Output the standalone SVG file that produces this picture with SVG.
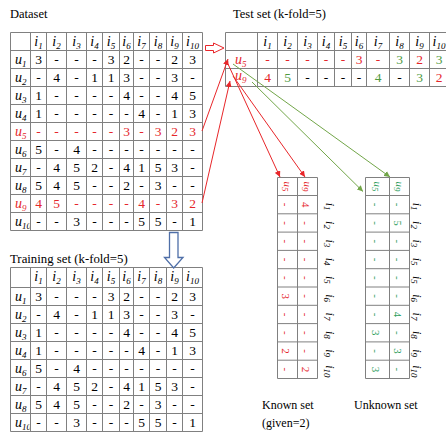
<svg xmlns="http://www.w3.org/2000/svg" width="446" height="435" viewBox="0 0 446 435">
<style>
text{font-family:"Liberation Serif","Times New Roman",serif}
.title{font-size:12.5px}
.v{font-size:13.5px;text-anchor:middle}
.lb{font-size:14px;font-style:italic}
.hd{font-size:14px;font-style:italic;text-anchor:middle}
.sub{font-size:9px}
.red{fill:#e5262b}
.grn{fill:#4f9a3f}
.teal{fill:#2d9d5c}
.grid{fill:none;stroke:#808080;stroke-width:1}
.rv{font-size:11px;text-anchor:middle}
.rh{font-size:11px;font-style:italic;text-anchor:middle}
.rl{font-size:12px;font-style:italic;text-anchor:middle}
.wire-r{stroke:#e8262a;stroke-width:1;fill:none}
.wire-g{stroke:#72a649;stroke-width:1;fill:none}
</style>
<defs>
<marker id="ah-red" viewBox="0 0 10 10" refX="10" refY="5" markerWidth="6" markerHeight="6" markerUnits="userSpaceOnUse" orient="auto"><path d="M0 0L10 5L0 10z" fill="#e8262a"/></marker>
<marker id="ah-grn" viewBox="0 0 10 10" refX="10" refY="5" markerWidth="6" markerHeight="6" markerUnits="userSpaceOnUse" orient="auto"><path d="M0 0L10 5L0 10z" fill="#72a649"/></marker>
<clipPath id="first-col"><rect x="10" y="0" width="19.5" height="435"/></clipPath>
</defs>
<rect width="446" height="435" fill="#fff"/>

<!-- full rating matrix -->
<g id="dataset">
<text class="title" x="10" y="18">Dataset</text>
<path class="grid" d="M10.5 32.5V230.5M30.5 32.5V230.5M46.5 32.5V230.5M66.5 32.5V230.5M86.5 32.5V230.5M102.5 32.5V230.5M119.5 32.5V230.5M133.5 32.5V230.5M149.5 32.5V230.5M166.5 32.5V230.5M182.5 32.5V230.5M202.5 32.5V230.5M10.5 32.5H202.5M10.5 50.5H202.5M10.5 68.5H202.5M10.5 86.5H202.5M10.5 104.5H202.5M10.5 122.5H202.5M10.5 140.5H202.5M10.5 158.5H202.5M10.5 176.5H202.5M10.5 194.5H202.5M10.5 212.5H202.5M10.5 230.5H202.5"/>
<g class="hd" transform="translate(0,45.5)">
<text x="38.5">i<tspan class="sub" dy="3">1</tspan></text><text x="56.5">i<tspan class="sub" dy="3">2</tspan></text><text x="76.5">i<tspan class="sub" dy="3">3</tspan></text><text x="94.5">i<tspan class="sub" dy="3">4</tspan></text><text x="111">i<tspan class="sub" dy="3">5</tspan></text><text x="126.5">i<tspan class="sub" dy="3">6</tspan></text><text x="141.5">i<tspan class="sub" dy="3">7</tspan></text><text x="158">i<tspan class="sub" dy="3">8</tspan></text><text x="174.5">i<tspan class="sub" dy="3">9</tspan></text><text x="192.5">i<tspan class="sub" dy="3">10</tspan></text>
</g>
<g class="lb">
<text x="15" y="63.5">u<tspan class="sub" dy="3">1</tspan></text>
<text x="15" y="81.5">u<tspan class="sub" dy="3">2</tspan></text>
<text x="15" y="99.5">u<tspan class="sub" dy="3">3</tspan></text>
<text x="15" y="117.5">u<tspan class="sub" dy="3">4</tspan></text>
<text x="15" y="135.5" class="red">u<tspan class="sub" dy="3">5</tspan></text>
<text x="15" y="153.5">u<tspan class="sub" dy="3">6</tspan></text>
<text x="15" y="171.5">u<tspan class="sub" dy="3">7</tspan></text>
<text x="15" y="189.5">u<tspan class="sub" dy="3">8</tspan></text>
<text x="15" y="207.5" class="red">u<tspan class="sub" dy="3">9</tspan></text>
<text x="15" y="225.5" clip-path="url(#first-col)">u<tspan class="sub" dy="3">10</tspan></text>
</g>
<g class="v" transform="translate(0,63.5)"><text x="38.5">3</text><text x="56.5">-</text><text x="76.5">-</text><text x="94.5">-</text><text x="111">3</text><text x="126.5">2</text><text x="141.5">-</text><text x="158">-</text><text x="174.5">2</text><text x="192.5">3</text></g>
<g class="v" transform="translate(0,81.5)"><text x="38.5">-</text><text x="56.5">4</text><text x="76.5">-</text><text x="94.5">1</text><text x="111">1</text><text x="126.5">3</text><text x="141.5">-</text><text x="158">-</text><text x="174.5">3</text><text x="192.5">-</text></g>
<g class="v" transform="translate(0,99.5)"><text x="38.5">1</text><text x="56.5">-</text><text x="76.5">-</text><text x="94.5">-</text><text x="111">-</text><text x="126.5">4</text><text x="141.5">-</text><text x="158">-</text><text x="174.5">4</text><text x="192.5">5</text></g>
<g class="v" transform="translate(0,117.5)"><text x="38.5">1</text><text x="56.5">-</text><text x="76.5">-</text><text x="94.5">-</text><text x="111">-</text><text x="126.5">-</text><text x="141.5">4</text><text x="158">-</text><text x="174.5">1</text><text x="192.5">3</text></g>
<g class="v red" transform="translate(0,135.5)"><text x="38.5">-</text><text x="56.5">-</text><text x="76.5">-</text><text x="94.5">-</text><text x="111">-</text><text x="126.5">3</text><text x="141.5">-</text><text x="158">3</text><text x="174.5">2</text><text x="192.5">3</text></g>
<g class="v" transform="translate(0,153.5)"><text x="38.5">5</text><text x="56.5">-</text><text x="76.5">4</text><text x="94.5">-</text><text x="111">-</text><text x="126.5">-</text><text x="141.5">-</text><text x="158">-</text><text x="174.5">-</text><text x="192.5">-</text></g>
<g class="v" transform="translate(0,171.5)"><text x="38.5">-</text><text x="56.5">4</text><text x="76.5">5</text><text x="94.5">2</text><text x="111">-</text><text x="126.5">4</text><text x="141.5">1</text><text x="158">5</text><text x="174.5">3</text><text x="192.5">-</text></g>
<g class="v" transform="translate(0,189.5)"><text x="38.5">5</text><text x="56.5">4</text><text x="76.5">5</text><text x="94.5">-</text><text x="111">-</text><text x="126.5">2</text><text x="141.5">-</text><text x="158">3</text><text x="174.5">-</text><text x="192.5">-</text></g>
<g class="v red" transform="translate(0,207.5)"><text x="38.5">4</text><text x="56.5">5</text><text x="76.5">-</text><text x="94.5">-</text><text x="111">-</text><text x="126.5">-</text><text x="141.5">4</text><text x="158">-</text><text x="174.5">3</text><text x="192.5">2</text></g>
<g class="v" transform="translate(0,225.5)"><text x="38.5">-</text><text x="56.5">-</text><text x="76.5">3</text><text x="94.5">-</text><text x="111">-</text><text x="126.5">-</text><text x="141.5">5</text><text x="158">5</text><text x="174.5">-</text><text x="192.5">1</text></g>
</g>

<!-- held-out fold -->
<g id="test-set">
<text class="title" x="233" y="18">Test set (k-fold=5)</text>
<path class="grid" d="M225.5 32.5V86.5M257.5 32.5V86.5M277.5 32.5V86.5M297.5 32.5V86.5M317.5 32.5V86.5M334.5 32.5V86.5M351.5 32.5V86.5M366.5 32.5V86.5M389.5 32.5V86.5M409.5 32.5V86.5M429.5 32.5V86.5M225.5 32.5H446M225.5 50.5H446M225.5 68.5H446M225.5 86.5H446"/>
<g class="hd" transform="translate(0,45.5)">
<text x="267.5">i<tspan class="sub" dy="3">1</tspan></text><text x="287.5">i<tspan class="sub" dy="3">2</tspan></text><text x="307.5">i<tspan class="sub" dy="3">3</tspan></text><text x="326">i<tspan class="sub" dy="3">4</tspan></text><text x="343">i<tspan class="sub" dy="3">5</tspan></text><text x="359">i<tspan class="sub" dy="3">6</tspan></text><text x="378">i<tspan class="sub" dy="3">7</tspan></text><text x="399.5">i<tspan class="sub" dy="3">8</tspan></text><text x="419.5">i<tspan class="sub" dy="3">9</tspan></text><text x="439">i<tspan class="sub" dy="3">10</tspan></text>
</g>
<g class="lb red">
<text x="235" y="63.5">u<tspan class="sub" dy="3">5</tspan></text>
<text x="235" y="80">u<tspan class="sub" dy="3">9</tspan></text>
</g>
<g class="v red" transform="translate(0,63.5)"><text x="267.5">-</text><text x="287.5">-</text><text x="307.5">-</text><text x="326">-</text><text x="343">-</text><text x="359">3</text><text x="378">-</text><text x="399.5" class="grn">3</text><text x="419.5">2</text><text x="439" class="grn">3</text></g>
<g class="v" transform="translate(0,81.5)"><text x="267.5" class="red">4</text><text x="287.5" class="grn">5</text><text x="307.5">-</text><text x="326">-</text><text x="343">-</text><text x="359">-</text><text x="378" class="grn">4</text><text x="399.5">-</text><text x="419.5" class="grn">3</text><text x="439" class="red">2</text></g>
</g>

<!-- remaining folds -->
<g id="training-set">
<text class="title" x="10" y="263" style="font-size:12.8px">Training set (k-fold=5)</text>
<path class="grid" d="M10.5 267.5V431.5M30.5 267.5V431.5M46.5 267.5V431.5M66.5 267.5V431.5M86.5 267.5V431.5M102.5 267.5V431.5M119.5 267.5V431.5M133.5 267.5V431.5M149.5 267.5V431.5M166.5 267.5V431.5M182.5 267.5V431.5M202.5 267.5V431.5M10.5 267.5H202.5M10.5 287.5H202.5M10.5 305.5H202.5M10.5 323.5H202.5M10.5 341.5H202.5M10.5 359.5H202.5M10.5 377.5H202.5M10.5 395.5H202.5M10.5 413.5H202.5M10.5 431.5H202.5"/>
<g class="hd" transform="translate(0,281)">
<text x="38.5">i<tspan class="sub" dy="3">1</tspan></text><text x="56.5">i<tspan class="sub" dy="3">2</tspan></text><text x="76.5">i<tspan class="sub" dy="3">3</tspan></text><text x="94.5">i<tspan class="sub" dy="3">4</tspan></text><text x="111">i<tspan class="sub" dy="3">5</tspan></text><text x="126.5">i<tspan class="sub" dy="3">6</tspan></text><text x="141.5">i<tspan class="sub" dy="3">7</tspan></text><text x="158">i<tspan class="sub" dy="3">8</tspan></text><text x="174.5">i<tspan class="sub" dy="3">9</tspan></text><text x="192.5">i<tspan class="sub" dy="3">10</tspan></text>
</g>
<g class="lb">
<text x="15" y="300.5">u<tspan class="sub" dy="3">1</tspan></text>
<text x="15" y="318.5">u<tspan class="sub" dy="3">2</tspan></text>
<text x="15" y="336.5">u<tspan class="sub" dy="3">3</tspan></text>
<text x="15" y="354.5">u<tspan class="sub" dy="3">4</tspan></text>
<text x="15" y="372.5">u<tspan class="sub" dy="3">6</tspan></text>
<text x="15" y="390.5">u<tspan class="sub" dy="3">7</tspan></text>
<text x="15" y="408.5">u<tspan class="sub" dy="3">8</tspan></text>
<text x="15" y="426.5" clip-path="url(#first-col)">u<tspan class="sub" dy="3">10</tspan></text>
</g>
<g class="v" transform="translate(0,300.5)"><text x="38.5">3</text><text x="56.5">-</text><text x="76.5">-</text><text x="94.5">-</text><text x="111">3</text><text x="126.5">2</text><text x="141.5">-</text><text x="158">-</text><text x="174.5">2</text><text x="192.5">3</text></g>
<g class="v" transform="translate(0,318.5)"><text x="38.5">-</text><text x="56.5">4</text><text x="76.5">-</text><text x="94.5">1</text><text x="111">1</text><text x="126.5">3</text><text x="141.5">-</text><text x="158">-</text><text x="174.5">3</text><text x="192.5">-</text></g>
<g class="v" transform="translate(0,336.5)"><text x="38.5">1</text><text x="56.5">-</text><text x="76.5">-</text><text x="94.5">-</text><text x="111">-</text><text x="126.5">4</text><text x="141.5">-</text><text x="158">-</text><text x="174.5">4</text><text x="192.5">5</text></g>
<g class="v" transform="translate(0,354.5)"><text x="38.5">1</text><text x="56.5">-</text><text x="76.5">-</text><text x="94.5">-</text><text x="111">-</text><text x="126.5">-</text><text x="141.5">4</text><text x="158">-</text><text x="174.5">1</text><text x="192.5">3</text></g>
<g class="v" transform="translate(0,372.5)"><text x="38.5">5</text><text x="56.5">-</text><text x="76.5">4</text><text x="94.5">-</text><text x="111">-</text><text x="126.5">-</text><text x="141.5">-</text><text x="158">-</text><text x="174.5">-</text><text x="192.5">-</text></g>
<g class="v" transform="translate(0,390.5)"><text x="38.5">-</text><text x="56.5">4</text><text x="76.5">5</text><text x="94.5">2</text><text x="111">-</text><text x="126.5">4</text><text x="141.5">1</text><text x="158">5</text><text x="174.5">3</text><text x="192.5">-</text></g>
<g class="v" transform="translate(0,408.5)"><text x="38.5">5</text><text x="56.5">4</text><text x="76.5">5</text><text x="94.5">-</text><text x="111">-</text><text x="126.5">2</text><text x="141.5">-</text><text x="158">3</text><text x="174.5">-</text><text x="192.5">-</text></g>
<g class="v" transform="translate(0,426.5)"><text x="38.5">-</text><text x="56.5">-</text><text x="76.5">3</text><text x="94.5">-</text><text x="111">-</text><text x="126.5">-</text><text x="141.5">5</text><text x="158">5</text><text x="174.5">-</text><text x="192.5">1</text></g>
</g>

<!-- given ratings, drawn rotated a quarter turn -->
<g id="known-set">
<path class="grid" d="M277.5 177.5V378.5M297.5 177.5V378.5M317.5 177.5V378.5M277.5 177.5H317.5M277.5 195.5H317.5M277.5 213.8H317.5M277.5 232.1H317.5M277.5 250.4H317.5M277.5 268.7H317.5M277.5 287H317.5M277.5 305.3H317.5M277.5 323.6H317.5M277.5 341.9H317.5M277.5 360.2H317.5M277.5 378.5H317.5"/>
<g class="rh red">
<text transform="translate(284,186.5) rotate(90)">u<tspan class="sub" dy="2.5">5</tspan></text>
<text transform="translate(304,186.5) rotate(90)">u<tspan class="sub" dy="2.5">9</tspan></text>
</g>
<g class="rv red">
<text transform="translate(282,204.7) rotate(90)">-</text><text transform="translate(302,204.7) rotate(90)">4</text>
<text transform="translate(282,223) rotate(90)">-</text><text transform="translate(302,223) rotate(90)">-</text>
<text transform="translate(282,241.3) rotate(90)">-</text><text transform="translate(302,241.3) rotate(90)">-</text>
<text transform="translate(282,259.6) rotate(90)">-</text><text transform="translate(302,259.6) rotate(90)">-</text>
<text transform="translate(282,277.9) rotate(90)">-</text><text transform="translate(302,277.9) rotate(90)">-</text>
<text transform="translate(282,296.2) rotate(90)">3</text><text transform="translate(302,296.2) rotate(90)">-</text>
<text transform="translate(282,314.5) rotate(90)">-</text><text transform="translate(302,314.5) rotate(90)">-</text>
<text transform="translate(282,332.8) rotate(90)">-</text><text transform="translate(302,332.8) rotate(90)">-</text>
<text transform="translate(282,351.1) rotate(90)">2</text><text transform="translate(302,351.1) rotate(90)">-</text>
<text transform="translate(282,369.4) rotate(90)">-</text><text transform="translate(302,369.4) rotate(90)">2</text>
</g>
<g class="rl">
<text transform="translate(326,206.7) rotate(90)">i<tspan class="sub" dy="2.5">1</tspan></text>
<text transform="translate(326,225) rotate(90)">i<tspan class="sub" dy="2.5">2</tspan></text>
<text transform="translate(326,243.3) rotate(90)">i<tspan class="sub" dy="2.5">3</tspan></text>
<text transform="translate(326,261.6) rotate(90)">i<tspan class="sub" dy="2.5">4</tspan></text>
<text transform="translate(326,279.9) rotate(90)">i<tspan class="sub" dy="2.5">5</tspan></text>
<text transform="translate(326,298.2) rotate(90)">i<tspan class="sub" dy="2.5">6</tspan></text>
<text transform="translate(326,316.5) rotate(90)">i<tspan class="sub" dy="2.5">7</tspan></text>
<text transform="translate(326,334.8) rotate(90)">i<tspan class="sub" dy="2.5">8</tspan></text>
<text transform="translate(326,353.1) rotate(90)">i<tspan class="sub" dy="2.5">9</tspan></text>
<text transform="translate(326,371.4) rotate(90)">i<tspan class="sub" dy="2.5">10</tspan></text>
</g>
<text class="title" x="262" y="409" style="font-size:12px">Known set</text>
<text class="title" x="262" y="426.5" style="font-size:12px">(given=2)</text>
</g>

<!-- ratings to predict, drawn rotated a quarter turn -->
<g id="unknown-set">
<path class="grid" d="M365.5 177.5V378.5M389.5 177.5V378.5M409.5 177.5V378.5M365.5 177.5H409.5M365.5 195.5H409.5M365.5 213.8H409.5M365.5 232.1H409.5M365.5 250.4H409.5M365.5 268.7H409.5M365.5 287H409.5M365.5 305.3H409.5M365.5 323.6H409.5M365.5 341.9H409.5M365.5 360.2H409.5M365.5 378.5H409.5"/>
<g class="rh teal">
<text transform="translate(374,186.5) rotate(90)">u<tspan class="sub" dy="2.5">5</tspan></text>
<text transform="translate(396,186.5) rotate(90)">u<tspan class="sub" dy="2.5">9</tspan></text>
</g>
<g class="rv teal">
<text transform="translate(372,204.7) rotate(90)">-</text><text transform="translate(394,204.7) rotate(90)">-</text>
<text transform="translate(372,223) rotate(90)">-</text><text transform="translate(394,223) rotate(90)">5</text>
<text transform="translate(372,241.3) rotate(90)">-</text><text transform="translate(394,241.3) rotate(90)">-</text>
<text transform="translate(372,259.6) rotate(90)">-</text><text transform="translate(394,259.6) rotate(90)">-</text>
<text transform="translate(372,277.9) rotate(90)">-</text><text transform="translate(394,277.9) rotate(90)">-</text>
<text transform="translate(372,296.2) rotate(90)">-</text><text transform="translate(394,296.2) rotate(90)">-</text>
<text transform="translate(372,314.5) rotate(90)">-</text><text transform="translate(394,314.5) rotate(90)">4</text>
<text transform="translate(372,332.8) rotate(90)">3</text><text transform="translate(394,332.8) rotate(90)">-</text>
<text transform="translate(372,351.1) rotate(90)">-</text><text transform="translate(394,351.1) rotate(90)">3</text>
<text transform="translate(372,369.4) rotate(90)">3</text><text transform="translate(394,369.4) rotate(90)">-</text>
</g>
<g class="rl">
<text transform="translate(413,206.7) rotate(90)">i<tspan class="sub" dy="2.5">1</tspan></text>
<text transform="translate(413,225) rotate(90)">i<tspan class="sub" dy="2.5">2</tspan></text>
<text transform="translate(413,243.3) rotate(90)">i<tspan class="sub" dy="2.5">3</tspan></text>
<text transform="translate(413,261.6) rotate(90)">i<tspan class="sub" dy="2.5">5</tspan></text>
<text transform="translate(413,279.9) rotate(90)">i<tspan class="sub" dy="2.5">5</tspan></text>
<text transform="translate(413,298.2) rotate(90)">i<tspan class="sub" dy="2.5">6</tspan></text>
<text transform="translate(413,316.5) rotate(90)">i<tspan class="sub" dy="2.5">7</tspan></text>
<text transform="translate(413,334.8) rotate(90)">i<tspan class="sub" dy="2.5">8</tspan></text>
<text transform="translate(413,353.1) rotate(90)">i<tspan class="sub" dy="2.5">9</tspan></text>
<text transform="translate(413,371.4) rotate(90)">i<tspan class="sub" dy="2.5">10</tspan></text>
</g>
<text class="title" x="354" y="409" style="font-size:12px">Unknown set</text>
</g>

<g id="connectors">
<!-- block arrows -->
<path d="M205.5 45.5H213.5V43L224 48L213.5 53V50.5H205.5Z" fill="#fff" stroke="#e8262a" stroke-width="1"/>
<path d="M169.5 232.5H178V257.5H183L173.7 268L164.5 257.5H169.5Z" fill="#fff" stroke="#4f6fa8" stroke-width="1.3"/>
<!-- dataset rows to test set -->
<path class="wire-r" d="M202 131L228 59" marker-end="url(#ah-red)"/>
<path class="wire-r" d="M202 203L230 81" marker-end="url(#ah-red)"/>
<!-- test users to known set -->
<path class="wire-r" d="M228 64L280 177" marker-end="url(#ah-red)"/>
<path class="wire-r" d="M233 76L305 177" marker-end="url(#ah-red)"/>
<!-- test users to unknown set -->
<path class="wire-g" d="M233 64L390 177" marker-end="url(#ah-grn)"/>
<path class="wire-g" d="M252 82L363 191.5" marker-end="url(#ah-grn)"/>
</g>
</svg>
